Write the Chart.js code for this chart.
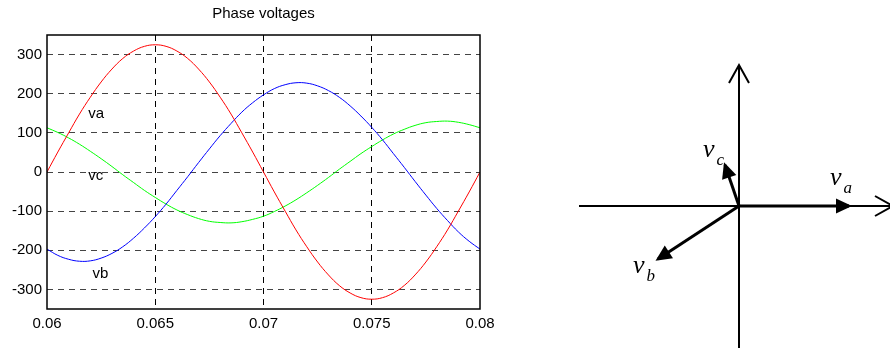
<!DOCTYPE html>
<html>
<head>
<meta charset="utf-8">
<script src="https://cdn.jsdelivr.net/npm/chart.js@4.4.1/dist/chart.umd.min.js"></script>
<style>
  html, body { margin: 0; padding: 0; background: #fff; }
  #wrap { position: relative; width: 890px; height: 350px; overflow: hidden; }
  #phase { position: absolute; left: 0; top: 0; }
  #phasor { position: absolute; left: 560px; top: 0; }
</style>
</head>
<body>
<div id="wrap">
  <canvas id="phase" width="520" height="350"></canvas>
  <canvas id="phasor" width="330" height="350"></canvas>
</div>
<script>
// time axis (s) and the three phase voltages
var time = [0.06, 0.0605, 0.061, 0.0615, 0.062, 0.0625, 0.063, 0.0635, 0.064, 0.0645,
            0.065, 0.0655, 0.066, 0.0665, 0.067, 0.0675, 0.068, 0.0685, 0.069, 0.0695,
            0.07, 0.0705, 0.071, 0.0715, 0.072, 0.0725, 0.073, 0.0735, 0.074, 0.0745,
            0.075, 0.0755, 0.076, 0.0765, 0.077, 0.0775, 0.078, 0.0785, 0.079, 0.0795, 0.08];
var va = [0, 51, 100, 148, 191, 230, 263, 290, 309, 321,
          325, 321, 309, 290, 263, 230, 191, 148, 100, 51,
          0, -51, -100, -148, -191, -230, -263, -290, -309, -321,
          -325, -321, -309, -290, -263, -230, -191, -148, -100, -51, 0];
var vb = [-197, -213, -223, -228, -227, -220, -208, -191, -169, -143,
          -114, -82, -47, -12, 24, 59, 93, 124, 153, 177,
          197, 213, 223, 228, 227, 220, 208, 191, 169, 143,
          114, 82, 47, 12, -24, -59, -93, -124, -153, -177, -197];
var vc = [113, 101, 87, 71, 53, 34, 14, -7, -27, -47,
          -65, -82, -97, -109, -119, -126, -129, -130, -127, -121,
          -113, -101, -87, -71, -53, -34, -14, 7, 27, 47,
          65, 82, 97, 109, 119, 126, 129, 130, 127, 121, 113];
var seriesNames = ['va', 'vb', 'vc'];
var seriesColors = ['#ff0000', '#0000ff', '#00ff00'];
var xTicks = [0.06, 0.065, 0.07, 0.075, 0.08];
var yTicks = [-300, -200, -100, 0, 100, 200, 300];

// text labels placed next to the curves
var curveLabelText = ['va', 'vc', 'vb'];
var curveLabelX = [0.0619, 0.0619, 0.0621];
var curveLabelY = [148, -10, -260];

// phasor diagram
var phasorSub = ['a', 'b', 'c'];
var phasorX = [110, -81, -14];
var phasorY = [0, -53, 41];
var phasorLabelX = [91, -106, -36];
var phasorLabelY = [21, -67, 49];
var axisX = [-160, 154];
var axisY = [-142, 141];

var sans = '"Liberation Sans", Arial, sans-serif';
var serif = '"Liberation Serif", "Times New Roman", serif';

function points(ys) {
  return time.map(function (t, i) { return { x: t, y: ys[i] }; });
}

/*----------------------------------------*/
/*  1.  phase voltages
/*----------------------------------------*/
var frame = {
  id: 'frame',
  afterDatasetsDraw: function (chart) {
    var a = chart.chartArea, c = chart.ctx;
    c.save();
    c.strokeStyle = '#000';
    c.lineWidth = 1.5;
    c.strokeRect(a.left, a.top, a.right - a.left, a.bottom - a.top);
    c.restore();
  }
};

var curveLabels = {
  id: 'curveLabels',
  afterDatasetsDraw: function (chart) {
    var c = chart.ctx, sx = chart.scales.x, sy = chart.scales.y;
    c.save();
    c.fillStyle = '#000';
    c.font = '15px ' + sans;
    c.textAlign = 'left';
    c.textBaseline = 'middle';
    curveLabelText.forEach(function (t, i) {
      c.fillText(t, sx.getPixelForValue(curveLabelX[i]), sy.getPixelForValue(curveLabelY[i]));
    });
    c.restore();
  }
};

function edgeColor(col, edges) {
  return function (ctx) {
    return ctx.tick && edges.indexOf(ctx.tick.value) >= 0 ? 'rgba(0,0,0,0)' : col;
  };
}

var ctx1 = document.getElementById('phase');
var phaseChart = new Chart(ctx1, {
  type: 'line',
  data: {
    datasets: [va, vb, vc].map(function (ys, i) {
      return {
        label: seriesNames[i],
        data: points(ys),
        borderColor: seriesColors[i],
        borderWidth: 1,
        pointRadius: 0,
        tension: 0.4,
        fill: false
      };
    })
  },
  options: {
    responsive: false,
    animation: false,
    layout: { padding: { right: 40 } },
    plugins: {
      legend: { display: false },
      tooltip: { enabled: false },
      title: {
        display: true,
        text: 'Phase voltages',
        fullSize: false,
        color: '#000',
        font: { family: sans, size: 15, weight: 'normal' },
        padding: { top: 5, bottom: 12 }
      }
    },
    scales: {
      x: {
        type: 'linear',
        min: 0.06,
        max: 0.08,
        afterBuildTicks: function (s) { s.ticks = xTicks.map(function (v) { return { value: v }; }); },
        afterFit: function (s) { s.height = 41; },
        grid: { color: edgeColor('#000', [0.06, 0.08]), lineWidth: 1, drawTicks: false },
        border: { display: false, dash: [6, 5] },
        ticks: {
          color: '#000',
          font: { family: sans, size: 15 },
          padding: 6,
          maxRotation: 0,
          callback: function (v) { return String(v); }
        }
      },
      y: {
        min: -350,
        max: 350,
        afterBuildTicks: function (s) { s.ticks = yTicks.map(function (v) { return { value: v }; }); },
        afterFit: function (s) { s.width = 47; },
        grid: { color: '#444', lineWidth: 1, drawTicks: false },
        border: { display: false, dash: [6, 5] },
        ticks: {
          color: '#000',
          font: { family: sans, size: 15 },
          padding: 5,
          callback: function (v) { return String(v); }
        }
      }
    }
  },
  plugins: [frame, curveLabels]
});

/*----------------------------------------*/
/*  2.  phasor diagram
/*----------------------------------------*/
var arrowHeads = {
  id: 'arrowHeads',
  afterDatasetsDraw: function (chart) {
    var c = chart.ctx;
    chart.data.datasets.forEach(function (ds, i) {
      var pts = chart.getDatasetMeta(i).data;
      var p0 = pts[0], p1 = pts[pts.length - 1];
      var dx = p1.x - p0.x, dy = p1.y - p0.y;
      var len = Math.sqrt(dx * dx + dy * dy);
      var ux = dx / len, uy = dy / len;
      c.save();
      c.strokeStyle = '#000';
      c.fillStyle = '#000';
      if (ds.head === 'fill') {
        var tx = p1.x + ux * 3, ty = p1.y + uy * 3;
        var bx = tx - ux * 16, by = ty - uy * 16;
        c.beginPath();
        c.moveTo(tx, ty);
        c.lineTo(bx - uy * 7.5, by + ux * 7.5);
        c.lineTo(bx + uy * 7.5, by - ux * 7.5);
        c.closePath();
        c.fill();
      } else if (ds.head === 'open') {
        var ax = p1.x - ux * 18, ay = p1.y - uy * 18;
        c.lineWidth = 2;
        c.beginPath();
        c.moveTo(ax - uy * 10, ay + ux * 10);
        c.lineTo(p1.x, p1.y);
        c.lineTo(ax + uy * 10, ay - ux * 10);
        c.stroke();
      }
      c.restore();
    });
  }
};

var phasorLabels = {
  id: 'phasorLabels',
  afterDatasetsDraw: function (chart) {
    var c = chart.ctx, sx = chart.scales.x, sy = chart.scales.y;
    c.save();
    c.fillStyle = '#000';
    c.textAlign = 'left';
    c.textBaseline = 'alphabetic';
    phasorSub.forEach(function (s, i) {
      var x = sx.getPixelForValue(phasorLabelX[i]);
      var y = sy.getPixelForValue(phasorLabelY[i]);
      c.font = 'italic 26px ' + serif;
      c.fillText('v', x, y);
      var w = c.measureText('v').width;
      c.font = 'italic 17px ' + serif;
      c.fillText(s, x + w + 2, y + 8);
    });
    c.restore();
  }
};

function segment(a, b, w, head) {
  return {
    data: [a, b],
    showLine: true,
    borderColor: '#000',
    borderWidth: w,
    pointRadius: 0,
    fill: false,
    clip: false,
    head: head
  };
}

var ctx2 = document.getElementById('phasor');
var phasorChart = new Chart(ctx2, {
  type: 'scatter',
  data: {
    datasets: [
      segment({ x: axisX[0], y: 0 }, { x: axisX[1], y: 0 }, 2, 'open'),
      segment({ x: 0, y: axisY[0] }, { x: 0, y: axisY[1] }, 2, 'open')
    ].concat(phasorX.map(function (px, i) {
      return segment({ x: 0, y: 0 }, { x: px, y: phasorY[i] }, 3, 'fill');
    }))
  },
  options: {
    responsive: false,
    animation: false,
    layout: { padding: 0 },
    plugins: { legend: { display: false }, tooltip: { enabled: false } },
    scales: {
      x: { type: 'linear', min: -179, max: 151, display: false },
      y: { type: 'linear', min: -144, max: 206, display: false }
    }
  },
  plugins: [arrowHeads, phasorLabels]
});
</script>
</body>
</html>
